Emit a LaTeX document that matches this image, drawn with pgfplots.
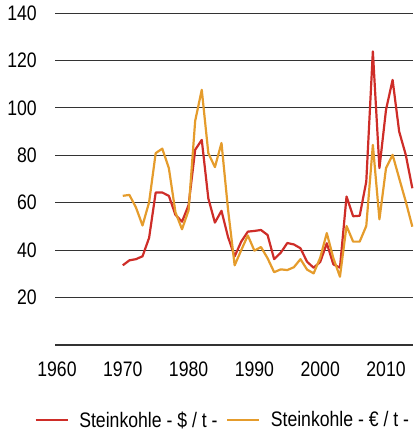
\documentclass[border=0pt]{standalone}
\usepackage{fontspec}
\setmainfont[FakeStretch=0.84]{Liberation Sans}
\usepackage{pgfplots}
\pgfplotsset{compat=1.18}
\usepackage{pgfplotstable}
\definecolor{cred}{RGB}{206,45,40}
\definecolor{cgold}{RGB}{229,156,44}
\pgfplotstableread{
year usd
1970 33.6
1971 35.7
1972 36.2
1973 37.4
1974 45.2
1975 64.3
1976 64.3
1977 62.9
1978 54.9
1979 52.0
1980 59.0
1981 82.3
1982 86.5
1983 61.8
1984 51.6
1985 56.6
1986 45.5
1987 37.4
1988 43.6
1989 47.8
1990 48.1
1991 48.5
1992 46.4
1993 36.2
1994 38.9
1995 43.0
1996 42.4
1997 40.8
1998 35.1
1999 32.6
2000 35.0
2001 42.9
2002 34.0
2003 32.6
2004 62.6
2005 54.3
2006 54.5
2007 68.9
2008 123.8
2009 74.6
2010 99.2
2011 111.8
2012 90.0
2013 80.2
2014 66.1
}\usd
\pgfplotstableread{
year eur
1970 62.9
1971 63.3
1972 58.0
1973 50.4
1974 60.2
1975 80.9
1976 82.8
1977 74.6
1978 56.0
1979 48.8
1980 56.8
1981 94.5
1982 107.6
1983 80.9
1984 75.0
1985 85.2
1986 57.0
1987 33.6
1988 40.0
1989 46.2
1990 39.8
1991 41.3
1992 36.6
1993 30.7
1994 31.9
1995 31.6
1996 32.8
1997 36.2
1998 31.8
1999 30.2
2000 36.8
2001 47.2
2002 36.6
2003 28.8
2004 50.2
2005 43.6
2006 43.6
2007 50.2
2008 84.4
2009 53.0
2010 74.6
2011 80.2
2012 70.3
2013 60.5
2014 49.9
}\eur
\begin{document}
\begin{tikzpicture}[font=\fontsize{21bp}{24bp}\selectfont]
\begin{axis}[
  at={(0,0)}, anchor=south west,
  scale only axis, width=358bp, height=332bp,
  xmin=1959.7, xmax=2014.1, ymin=0, ymax=140,
  xtick={1960,1970,...,2010}, ytick={20,40,...,140},
  xticklabel style={/pgf/number format/1000 sep={}},
  /pgf/number format/assume math mode=true,
  axis x line*=bottom, axis y line*=left,
  y axis line style={draw=none},
  x axis line style={draw=black!80, line width=1.3bp},
  major tick length=0pt,
  ymajorgrids, grid style={draw=black!80, line width=0.8bp},
  yticklabel style={anchor=east, inner sep=0pt, xshift=-18bp},
  xticklabel style={anchor=north, inner sep=0pt, yshift=-17bp},
  clip=false,
  legend columns=2,
  legend image code/.code={\draw[#1, line width=1.3bp] (0bp,0bp) -- (32bp,0bp);},
  legend style={draw=none, fill=none, inner sep=0pt, outer sep=0pt,
    nodes={inner sep=0pt, anchor=west},
    at={([xshift=-20bp,yshift=-75bp]rel axis cs:0,0)}, anchor=west},
]
\addplot[cred, line width=2.2bp, line join=round] table[x=year,y=usd]{\usd};
\addlegendentry{\rule{11bp}{0pt}Steinkohle - \$ / t -\rule{9bp}{0pt}}
\addplot[cgold, line width=2.2bp, line join=round] table[x=year,y=eur]{\eur};
\addlegendentry{\rule{11bp}{0pt}Steinkohle - € / t -}
\end{axis}
\pgfresetboundingbox
\path[use as bounding box] (-55bp,-90bp) rectangle (360bp,345bp);
\end{tikzpicture}
\end{document}
